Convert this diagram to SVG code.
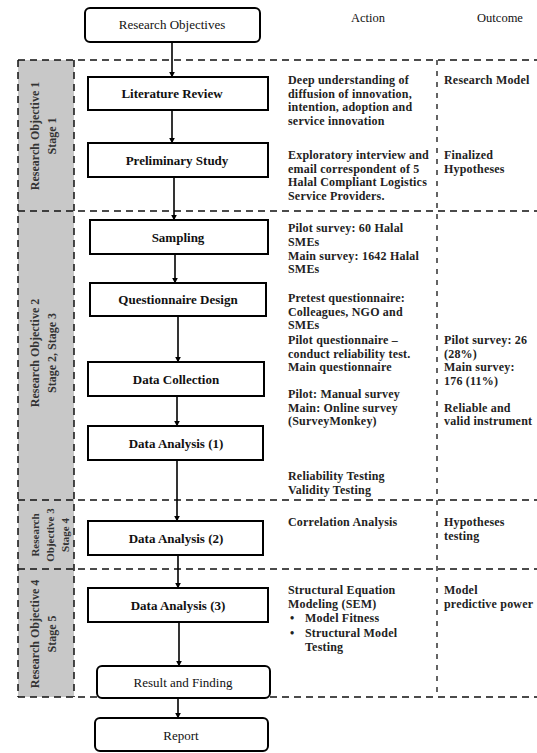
<svg xmlns="http://www.w3.org/2000/svg" width="537" height="753" viewBox="0 0 537 753">
<style>
.box{fill:#fff;stroke:#000;stroke-width:2}
.lbl{font-family:"Liberation Serif",serif;font-size:13px;font-weight:bold;fill:#111;text-anchor:middle}
.lblr{font-family:"Liberation Serif",serif;font-size:13px;fill:#111;text-anchor:middle}
.hdr{font-family:"Liberation Serif",serif;font-size:12.5px;fill:#111;text-anchor:middle}
.txt{font-family:"Liberation Serif",serif;font-size:12px;font-weight:bold;fill:#222;letter-spacing:0.2px}
.strip{fill:#c8c8c8;stroke:none}
.dash{stroke:#111;stroke-width:1.5;stroke-dasharray:7 5;fill:none}
.vdash{stroke:#111;stroke-width:1.3;stroke-dasharray:5 6;fill:none}
.side{font-family:"Liberation Serif",serif;font-size:12px;font-weight:bold;fill:#333;text-anchor:middle}
.side3{font-family:"Liberation Serif",serif;font-size:11px;font-weight:bold;fill:#333;text-anchor:middle}
.conn{stroke:#000;stroke-width:1.6;fill:none;marker-end:url(#ah)}
</style>
<defs>
<marker id="ah" viewBox="0 0 10 10" refX="9" refY="5" markerWidth="6" markerHeight="6" markerUnits="userSpaceOnUse" orient="auto">
<path d="M0,0 L10,5 L0,10 z" fill="#000"/>
</marker>
</defs>
<rect width="537" height="753" fill="#fff"/>

<g id="stages">
<rect class="strip" x="18" y="60" width="56" height="151"/>
<rect class="strip" x="18" y="211" width="56" height="289"/>
<rect class="strip" x="18" y="500" width="56" height="69"/>
<rect class="strip" x="18" y="569" width="56" height="128"/>
<line class="dash" x1="18" y1="60" x2="537" y2="60"/>
<line class="dash" x1="18" y1="211" x2="537" y2="211"/>
<line class="dash" x1="18" y1="500" x2="537" y2="500"/>
<line class="dash" x1="18" y1="569" x2="537" y2="569"/>
<line class="dash" x1="18" y1="697" x2="97" y2="697"/>
<line class="dash" x1="270" y1="697" x2="537" y2="697"/>
<line class="dash" x1="18" y1="60" x2="18" y2="697"/>
<line class="dash" x1="74" y1="60" x2="74" y2="697"/>
<line class="vdash" x1="437" y1="60" x2="437" y2="697"/>
<text class="side" transform="translate(0,136) rotate(-90)"><tspan x="0" y="39">Research Objective 1</tspan><tspan x="0" y="56">Stage 1</tspan></text>
<text class="side" transform="translate(0,353) rotate(-90)"><tspan x="0" y="39">Research Objective 2</tspan><tspan x="0" y="56">Stage 2, Stage 3</tspan></text>
<text class="side3" transform="translate(0,535) rotate(-90)"><tspan x="0" y="39">Research</tspan><tspan x="0" y="54">Objective 3</tspan><tspan x="0" y="69">Stage 4</tspan></text>
<text class="side" transform="translate(0,634) rotate(-90)"><tspan x="0" y="39">Research Objective 4</tspan><tspan x="0" y="56">Stage 5</tspan></text>
</g>

<g id="headers">
<text class="hdr" x="368" y="22">Action</text>
<text class="hdr" x="500" y="22">Outcome</text>
</g>

<g id="connectors">
<line class="conn" x1="172" y1="42" x2="172" y2="77"/>
<line class="conn" x1="172" y1="110" x2="172" y2="143"/>
<line class="conn" x1="174" y1="177" x2="174" y2="220"/>
<line class="conn" x1="175" y1="254" x2="175" y2="283"/>
<line class="conn" x1="178" y1="316" x2="178" y2="362"/>
<line class="conn" x1="177" y1="396" x2="177" y2="426"/>
<line class="conn" x1="177" y1="460" x2="177" y2="521"/>
<line class="conn" x1="178" y1="555" x2="178" y2="588"/>
<line class="conn" x1="179" y1="622" x2="179" y2="666"/>
<line class="conn" x1="178" y1="698" x2="178" y2="718"/>
</g>

<g id="n-objectives"><rect class="box" x="85" y="8" width="175" height="34" rx="5"/><text class="lblr" x="172" y="29">Research Objectives</text></g>
<g id="n-literature"><rect class="box" x="88" y="77" width="180" height="33"/><text class="lbl" x="172" y="98">Literature Review</text></g>
<g id="n-preliminary"><rect class="box" x="88" y="143" width="180" height="34"/><text class="lbl" x="177" y="165">Preliminary Study</text></g>
<g id="n-sampling"><rect class="box" x="90" y="220" width="178" height="34"/><text class="lbl" x="178" y="242">Sampling</text></g>
<g id="n-questionnaire"><rect class="box" x="90" y="283" width="176" height="33"/><text class="lbl" x="178" y="304">Questionnaire Design</text></g>
<g id="n-collection"><rect class="box" x="88" y="362" width="176" height="34"/><text class="lbl" x="176" y="384">Data Collection</text></g>
<g id="n-da1"><rect class="box" x="88" y="426" width="175" height="34"/><text class="lbl" x="176" y="448">Data Analysis (1)</text></g>
<g id="n-da2"><rect class="box" x="88" y="521" width="175" height="34"/><text class="lbl" x="176" y="543">Data Analysis (2)</text></g>
<g id="n-da3"><rect class="box" x="88" y="588" width="180" height="34"/><text class="lbl" x="178" y="610">Data Analysis (3)</text></g>
<g id="n-result"><rect class="box" x="97" y="666" width="173" height="32" rx="5"/><text class="lblr" x="183" y="687">Result and Finding</text></g>
<g id="n-report"><rect class="box" x="95" y="718" width="173" height="33" rx="5"/><text class="lblr" x="181" y="740">Report</text></g>

<g id="actions">
<text class="txt"><tspan x="288" y="84">Deep understanding of</tspan><tspan x="288" y="97.5">diffusion of innovation,</tspan><tspan x="288" y="111">intention, adoption and</tspan><tspan x="288" y="124.5">service innovation</tspan></text>
<text class="txt"><tspan x="288" y="159">Exploratory interview and</tspan><tspan x="288" y="172.5">email correspondent of 5</tspan><tspan x="288" y="186">Halal Compliant Logistics</tspan><tspan x="288" y="199.5">Service Providers.</tspan></text>
<text class="txt"><tspan x="288" y="232">Pilot survey: 60 Halal</tspan><tspan x="288" y="245.5">SMEs</tspan><tspan x="288" y="260">Main survey: 1642 Halal</tspan><tspan x="288" y="273">SMEs</tspan></text>
<text class="txt"><tspan x="288" y="302">Pretest questionnaire:</tspan><tspan x="288" y="316">Colleagues, NGO and</tspan><tspan x="288" y="329">SMEs</tspan><tspan x="288" y="344">Pilot questionnaire –</tspan><tspan x="288" y="357.5">conduct reliability test.</tspan><tspan x="288" y="371">Main questionnaire</tspan></text>
<text class="txt"><tspan x="288" y="398">Pilot: Manual survey</tspan><tspan x="288" y="411.5">Main: Online survey</tspan><tspan x="288" y="425">(SurveyMonkey)</tspan></text>
<text class="txt"><tspan x="288" y="480">Reliability Testing</tspan><tspan x="288" y="494">Validity Testing</tspan></text>
<text class="txt"><tspan x="288" y="526">Correlation Analysis</tspan></text>
<text class="txt"><tspan x="288" y="594">Structural Equation</tspan><tspan x="288" y="608">Modeling (SEM)</tspan><tspan x="290" y="622">•</tspan><tspan x="305" y="622">Model Fitness</tspan><tspan x="290" y="637">•</tspan><tspan x="305" y="637">Structural Model</tspan><tspan x="305" y="651">Testing</tspan></text>
</g>

<g id="outcomes">
<text class="txt"><tspan x="444" y="84">Research Model</tspan></text>
<text class="txt"><tspan x="444" y="159">Finalized</tspan><tspan x="444" y="172.5">Hypotheses</tspan></text>
<text class="txt"><tspan x="444" y="344">Pilot survey: 26</tspan><tspan x="444" y="357.5">(28%)</tspan><tspan x="444" y="371">Main survey:</tspan><tspan x="444" y="384.5">176 (11%)</tspan></text>
<text class="txt"><tspan x="444" y="411.5">Reliable and</tspan><tspan x="444" y="425">valid instrument</tspan></text>
<text class="txt"><tspan x="444" y="526">Hypotheses</tspan><tspan x="444" y="540">testing</tspan></text>
<text class="txt"><tspan x="444" y="594">Model</tspan><tspan x="444" y="608">predictive power</tspan></text>
</g>
</svg>
